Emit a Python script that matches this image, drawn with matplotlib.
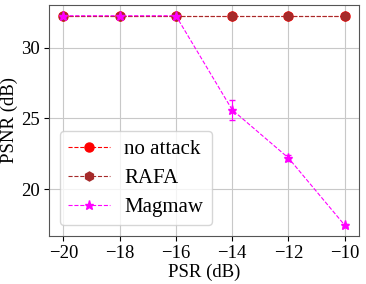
import numpy as np
import matplotlib.pyplot as plt

plt.rcParams['font.family'] = ['Liberation Serif', 'DejaVu Serif']
plt.rcParams['mathtext.fontset'] = 'stix'

psr = [-20, -18, -16, -14, -12, -10]
no_attack = [32.25, 32.25, 32.25, 32.25, 32.25, 32.25]
rafa = [32.25, 32.25, 32.25, 32.25, 32.25, 32.25]
magmaw = [32.25, 32.25, 32.25, 25.6, 22.2, 17.45]
magmaw_err = [0.0, 0.0, 0.0, 0.7, 0.2, 0.1]

fig, ax = plt.subplots(figsize=(3.66, 2.84), dpi=100)
ax.plot(psr, no_attack, '--o', color='red', lw=0.8, ms=6.5, label='no attack')
ax.plot(psr, rafa, '--h', color='brown', lw=0.8, ms=6.5, label='RAFA')
ax.errorbar(psr, magmaw, yerr=magmaw_err, fmt='none', ecolor='magenta',
            capsize=2, elinewidth=0.8)
ax.plot(psr, magmaw, '--*', color='magenta', lw=0.8, ms=6.5, label='Magmaw')

ax.set_xlim(-20.5, -9.5)
ax.set_ylim(16.7, 33.0)
ax.set_xticks([-20, -18, -16, -14, -12, -10])
ax.set_yticks([20, 25, 30])
ax.tick_params(labelsize=13.5)
ax.set_xlabel('PSR (dB)', fontsize=13.5, labelpad=1)
ax.set_ylabel('PSNR (dB)', fontsize=13.5, labelpad=2)
ax.grid(True, color='#c8c8c8', lw=0.8)
for s in ax.spines.values():
    s.set_color('#555555')
ax.legend(loc='lower left', fontsize=15, handlelength=2.0, borderpad=0.4,
          labelspacing=0.45, handletextpad=0.7)
fig.subplots_adjust(left=0.135, right=0.98, top=0.982, bottom=0.17)
fig.savefig('out.png', dpi=100)
